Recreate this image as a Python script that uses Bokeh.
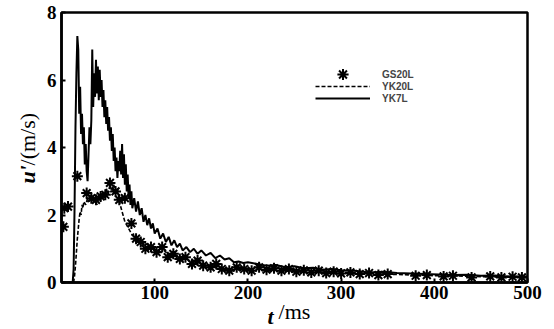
import math
from bokeh.plotting import figure
from bokeh.models import Legend, LegendItem, Label, FixedTicker, Range1d
from bokeh.embed import file_html
from bokeh.resources import INLINE

# ---- data ----
t_yk7l = [0, 12, 13, 14, 15, 16, 17, 18, 19, 20,
          21, 22, 23, 24, 25, 26, 27, 28, 29, 30,
          31, 32, 33, 34, 35, 36, 37, 38, 39, 40,
          41, 42, 43, 44, 45, 46, 47, 48, 49, 50,
          51, 52, 53, 54, 55, 56, 57, 58, 59, 60,
          61, 62, 63, 64, 65, 66, 67, 68, 69, 70,
          71, 72, 73, 74, 75, 76, 78, 80, 82, 84,
          86, 88, 90, 92, 94, 96, 98, 100, 103, 106,
          109, 112, 115, 118, 121, 124, 127, 130, 134, 138,
          142, 146, 150, 155, 160, 165, 170, 175, 180, 185,
          190, 195, 200, 210, 220, 230, 240, 250, 260, 270,
          280, 290, 300, 315, 330, 345, 360, 375, 390, 405,
          420, 435, 450, 465, 480, 500]
u_yk7l = [0, 0, 0.4, 2.2, 4.6, 6.2, 7.3, 6.9, 5.0, 5.8,
          4.4, 5.0, 4.1, 4.6, 3.5, 4.1, 3.3, 3.0, 3.8, 4.6,
          4.1, 4.8, 6.9, 5.2, 6.2, 5.5, 6.6, 5.6, 6.4, 5.4,
          6.3, 5.5, 6.0, 5.2, 5.7, 4.9, 5.4, 4.7, 5.2, 4.5,
          4.9, 4.2, 4.6, 3.9, 4.4, 3.6, 4.0, 3.3, 3.7, 3.1,
          3.6, 3.3, 3.9, 3.2, 4.1, 3.1, 3.8, 2.9, 3.5, 2.7,
          3.2, 2.5, 2.9, 2.3, 2.7, 2.2, 2.5, 2.1, 2.4, 2.0,
          2.2, 1.8, 2.0, 1.7, 1.9, 1.6, 1.75, 1.45, 1.6, 1.3,
          1.45, 1.2, 1.35, 1.1, 1.25, 1.05, 1.15, 0.95, 1.05, 0.9,
          1.0, 0.85, 0.95, 0.8, 0.88, 0.72, 0.8, 0.68, 0.72, 0.6,
          0.62, 0.58, 0.6, 0.55, 0.5, 0.52, 0.45, 0.48, 0.42, 0.44,
          0.38, 0.4, 0.36, 0.35, 0.3, 0.32, 0.28, 0.27, 0.25, 0.24,
          0.22, 0.23, 0.2, 0.21, 0.18, 0.18]

t_yk20l = [0, 13, 14, 15, 16, 17, 18, 19, 20, 21, 22, 23, 24,
           26, 28, 30, 32, 34, 36, 38, 40, 42, 44, 46, 48, 50, 52,
           54, 56, 58, 60, 62, 64, 66, 68, 70, 72, 74, 76, 78, 80,
           83, 86, 89, 92, 95, 98,
           102, 106, 110, 114, 118, 122, 126, 130,
           135, 140, 145, 150, 155, 160, 165, 170, 175, 180,
           190, 200, 210, 220, 230, 240, 250, 260, 270, 280, 290, 300,
           320, 340, 360, 380, 400, 420, 440, 460, 480, 500]
u_yk20l = [0, 0, 0.2, 0.5, 0.9, 1.3, 1.6, 1.9, 2.1, 2.0, 2.3, 2.2, 2.4,
           2.3, 2.5, 2.4, 2.6, 2.4, 2.5, 2.3, 2.6, 2.5, 2.7, 2.5, 2.8, 2.6, 2.9,
           2.7, 2.9, 2.7, 2.8, 2.4, 2.2, 2.0, 1.8, 1.7, 1.6, 1.5, 1.4, 1.45, 1.3,
           1.2, 1.25, 1.1, 1.15, 1.0, 1.05,
           0.95, 0.9, 0.95, 0.85, 0.8, 0.82, 0.75, 0.72,
           0.68, 0.65, 0.6, 0.58, 0.55, 0.5, 0.48, 0.45, 0.42, 0.4,
           0.38, 0.36, 0.4, 0.35, 0.37, 0.33, 0.35, 0.3, 0.33, 0.3, 0.31, 0.28,
           0.27, 0.25, 0.24, 0.22, 0.2, 0.2, 0.18, 0.17, 0.16, 0.15]

t_gs20l = [2, 3, 7, 17, 27, 32, 37, 42, 47, 52, 58, 62, 68,
           75, 80, 85, 90, 96, 102, 108, 114, 120, 127, 133, 140,
           146, 152, 160, 166, 172, 180, 188, 196, 204, 212, 220,
           228, 236, 244, 252, 260, 268, 276, 284, 292, 300, 310,
           320, 330, 340, 350, 380, 392, 410, 420, 440, 460, 472,
           484, 494]
u_gs20l = [1.65, 2.2, 2.25, 3.15, 2.65, 2.5, 2.45, 2.55, 2.6, 2.95, 2.7, 2.45, 2.5,
           1.75, 1.3, 1.2, 1.0, 1.05, 0.9, 1.05, 0.75, 0.85, 0.7, 0.75, 0.55,
           0.65, 0.5, 0.45, 0.55, 0.4, 0.35, 0.45, 0.4, 0.35, 0.45, 0.38,
           0.42, 0.35, 0.4, 0.32, 0.36, 0.3, 0.35, 0.28, 0.32, 0.27, 0.3,
           0.25, 0.28, 0.22, 0.25, 0.2, 0.22, 0.18, 0.2, 0.15, 0.18, 0.15,
           0.17, 0.15]

x_ticks = [100, 200, 300, 400, 500]
y_ticks = [0, 2, 4, 6, 8]
series_names = ["GS20L", "YK20L", "YK7L"]

assert len(t_yk7l) == len(u_yk7l), (len(t_yk7l), len(u_yk7l))
assert len(t_yk20l) == len(u_yk20l), (len(t_yk20l), len(u_yk20l))
assert len(t_gs20l) == len(u_gs20l), (len(t_gs20l), len(u_gs20l))

SERIF = "Liberation Serif"

p = figure(width=554, height=329,
           x_range=Range1d(0, 500), y_range=Range1d(0, 8),
           output_backend="svg", toolbar_location=None,
           min_border_left=61, min_border_right=27,
           min_border_top=12, min_border_bottom=47)
p.grid.visible = False
p.background_fill_color = "white"
p.border_fill_color = "white"
p.outline_line_color = "black"
p.outline_line_width = 2.5

for ax in (p.xaxis[0], p.yaxis[0]):
    ax.axis_line_width = 2.5
    ax.axis_line_color = "black"
    ax.major_tick_in = 4
    ax.major_tick_out = 0
    ax.major_tick_line_width = 2
    ax.minor_tick_line_color = None
    ax.major_label_text_font = SERIF
    ax.major_label_text_font_style = "bold"
    ax.major_label_text_font_size = "19px"
    ax.major_label_text_color = "black"
    ax.major_label_standoff = 5
p.xaxis.major_label_standoff = 3
p.xaxis.ticker = FixedTicker(ticks=x_ticks)
p.yaxis.ticker = FixedTicker(ticks=y_ticks)

# x title: upright part as the axis label, italic "t" as a Label
p.xaxis.axis_label = "/ms"
p.xaxis.axis_label_text_font = SERIF
p.xaxis.axis_label_text_font_style = "normal"
p.xaxis.axis_label_text_font_size = "22px"
p.xaxis.axis_label_text_color = "black"
p.xaxis.axis_label_standoff = -3

r_yk7l = p.line(t_yk7l, u_yk7l, line_color="black", line_width=2)
r_yk20l = p.line(t_yk20l, u_yk20l, line_color="black", line_width=1.6,
                 line_dash="4 2")
r_gs20l = p.scatter(t_gs20l, u_gs20l, marker="asterisk", size=11,
                    line_color="black", line_width=2)

leg_style = dict(glyph_width=55, label_standoff=12, spacing=0, padding=0,
                 margin=0, border_line_color=None, background_fill_alpha=0,
                 label_text_font="Liberation Sans", label_text_font_style="bold",
                 label_text_font_size="10px")
legend_star = Legend(items=[LegendItem(label=series_names[0], renderers=[r_gs20l])],
                     location=(254, 194), glyph_height=28, label_height=12,
                     **leg_style)
legend_lines = Legend(items=[LegendItem(label=series_names[1], renderers=[r_yk20l]),
                             LegendItem(label=series_names[2], renderers=[r_yk7l])],
                      location=(254, 178), glyph_height=12, label_height=12,
                      **leg_style)
p.add_layout(legend_star)
p.add_layout(legend_lines)

# remaining title pieces, positioned in data units, kept in side panels
common = dict(text_font=SERIF, text_font_size="22px", text_color="black")
p.add_layout(Label(x=-36.5, y=2.93, text="u'", angle=math.pi / 2,
                   text_align="left", text_baseline="middle",
                   text_font_style="bold italic", **common), "left")
p.add_layout(Label(x=-36.5, y=3.47, text="/(m/s)", angle=math.pi / 2,
                   text_align="left", text_baseline="middle",
                   text_font_style="normal", **common), "right")
p.add_layout(Label(x=221, y=-1.0, text="t", text_align="left",
                   text_baseline="middle", text_font_style="bold italic",
                   **common), "left")

open("out.html", "w").write(file_html(p, INLINE))
